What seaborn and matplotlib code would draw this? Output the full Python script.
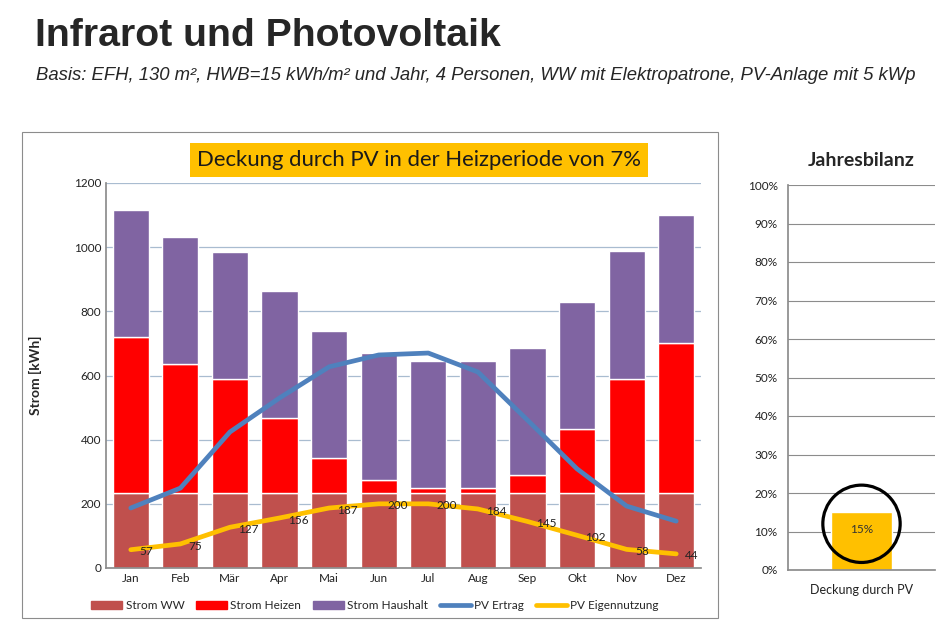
import numpy as np
import pandas as pd
import matplotlib
matplotlib.use("Agg")
import matplotlib.pyplot as plt
import seaborn as sns
from matplotlib.patches import Rectangle
from matplotlib.lines import Line2D
from matplotlib.ticker import PercentFormatter

# Daten
monate = ['Jan', 'Feb', 'Mär', 'Apr', 'Mai', 'Jun', 'Jul', 'Aug', 'Sep', 'Okt', 'Nov', 'Dez']
strom_ww = [235, 235, 235, 235, 235, 235, 235, 235, 235, 235, 235, 235]
strom_heizen = [485, 401, 354, 233, 108, 39, 14, 14, 55, 198, 354, 466]
strom_haushalt = [396, 396, 396, 395, 396, 396, 396, 396, 396, 396, 399, 399]
pv_ertrag = [187, 249, 424, 530, 627, 664, 670, 611, 461, 309, 193, 146]
pv_eigennutzung = [57, 75, 127, 156, 187, 200, 200, 184, 145, 102, 58, 44]

bilanz_kat = ['Deckung durch PV']
bilanz_wert = [0.15]

c_ww = '#C0504D'
c_heizen = '#FF0000'
c_haushalt = '#8064A2'
c_ertrag = '#4F81BD'
c_eigen = '#FFC000'

sns.set_theme(style="white")
plt.rcParams['font.family'] = ['Lato', 'DejaVu Sans']

fig = plt.figure(figsize=(9.48, 6.3), dpi=100)

# Rahmen um das linke Diagramm
fig.patches.append(Rectangle((22 / 948, 12 / 630), 696 / 948, 486 / 630, transform=fig.transFigure,
                             fill=False, edgecolor='#8C8C8C', linewidth=0.8))

# Überschriften
fig.text(35 / 948, 1 - 36 / 630, 'Infrarot und Photovoltaik', fontsize=28.3, fontweight='bold',
         family=['Liberation Sans', 'DejaVu Sans'], va='center', ha='left')
fig.text(36 / 948, 1 - 76 / 630,
         'Basis: EFH, 130 m², HWB=15 kWh/m² und Jahr, 4 Personen, WW mit Elektropatrone, PV-Anlage mit 5 kWp',
         fontsize=13.3, style='italic', family=['Liberation Sans', 'DejaVu Sans'],
         va='center', ha='left')

# ---------------- Monatsdiagramm ----------------
ax = fig.add_axes([106 / 948, 1 - 568 / 630, 595 / 948, 385 / 630])
x = np.arange(len(monate))
ww = np.array(strom_ww)
hz = np.array(strom_heizen)
hh = np.array(strom_haushalt)

sns.barplot(x=monate, y=ww, color=c_ww, width=0.73, saturation=1, ax=ax)
sns.barplot(x=monate, y=hz, bottom=ww, color=c_heizen, width=0.73, saturation=1, ax=ax)
sns.barplot(x=monate, y=hh, bottom=ww + hz, color=c_haushalt, width=0.73, saturation=1, ax=ax)
sns.lineplot(x=x, y=pv_ertrag, color=c_ertrag, linewidth=3.4, ax=ax, solid_capstyle='round')
sns.lineplot(x=x, y=pv_eigennutzung, color=c_eigen, linewidth=3.4, ax=ax, solid_capstyle='round')

for xi, v in zip(x, pv_eigennutzung):
    ax.annotate(str(v), (xi, v), xytext=(6, -1.5), textcoords='offset points',
                fontsize=8.5, ha='left', va='center', color='#222222')

ax.set_ylim(0, 1200)
ax.set_xlim(-0.5, len(monate) - 0.5)
ax.set_yticks(range(0, 1201, 200))
ax.yaxis.grid(True, color='#A9BCD0', linewidth=0.9)
ax.set_axisbelow(True)
for s in ['top', 'right']:
    ax.spines[s].set_visible(False)
ax.spines['left'].set_color('#8C8C8C')
ax.spines['bottom'].set_color('#8C8C8C')
ax.tick_params(axis='both', labelsize=8.5, colors='#222222', length=0)
ax.set_xticks(x)
ax.set_xticks(np.arange(-0.5, len(monate), 1), minor=True)
ax.tick_params(axis='x', which='minor', length=4, color='#8C8C8C', direction='out')
ax.set_xlabel('')
ax.set_ylabel('Strom [kWh]', fontsize=10, fontweight='bold', labelpad=23)

handles = [
    Rectangle((0, 0), 1, 1, color=c_ww),
    Rectangle((0, 0), 1, 1, color=c_heizen),
    Rectangle((0, 0), 1, 1, color=c_haushalt),
    Line2D([0], [0], color=c_ertrag, linewidth=3.4),
    Line2D([0], [0], color=c_eigen, linewidth=3.4),
]
labels = ['Strom WW', 'Strom Heizen', 'Strom Haushalt', 'PV Ertrag', 'PV Eigennutzung']
ax.legend(handles, labels, loc='upper center', bbox_to_anchor=(0.452, -0.055), ncol=5, frameon=False,
          fontsize=8.5, handlelength=2.6, handleheight=0.7, columnspacing=1.0, handletextpad=0.3)

fig.text(419 / 948, 1 - 160 / 630, 'Deckung durch PV in der Heizperiode von 7%', fontsize=15.9,
         ha='center', va='center', color='#1a1a1a',
         bbox=dict(boxstyle='square,pad=0.3', facecolor=c_eigen, edgecolor='none'))

# ---------------- Jahresbilanz ----------------
ax2 = fig.add_axes([788 / 948, 1 - 570 / 630, 147 / 948, 385 / 630])
sns.barplot(x=bilanz_kat, y=bilanz_wert, color=c_eigen, width=0.41, saturation=1, ax=ax2)
ax2.set_ylim(0, 1)
ax2.set_xlim(-0.5, 0.5)
ax2.set_yticks(np.arange(0, 1.01, 0.1))
ax2.yaxis.set_major_formatter(PercentFormatter(1, decimals=0))
ax2.yaxis.grid(True, color='#8C8C8C', linewidth=0.8)
ax2.set_axisbelow(True)
for s in ['top', 'right']:
    ax2.spines[s].set_visible(False)
ax2.spines['left'].set_color('#8C8C8C')
ax2.spines['bottom'].set_color('#8C8C8C')
ax2.tick_params(axis='y', labelsize=8.5, colors='#222222', length=4, color='#8C8C8C', direction='out')
ax2.tick_params(axis='x', labelsize=9, colors='#222222', length=0, pad=10)
ax2.set_xlabel('')
ax2.set_title('Jahresbilanz', fontsize=14, fontweight='bold', pad=14)
ax2.text(0, bilanz_wert[0] * 0.7, '15%', ha='center', va='center', fontsize=8.5, color='#333333')
ax2.scatter([0], [0.12], s=3100, facecolors='none', edgecolors='black', linewidths=2.3, zorder=5)

fig.savefig('out.png', dpi=100)
